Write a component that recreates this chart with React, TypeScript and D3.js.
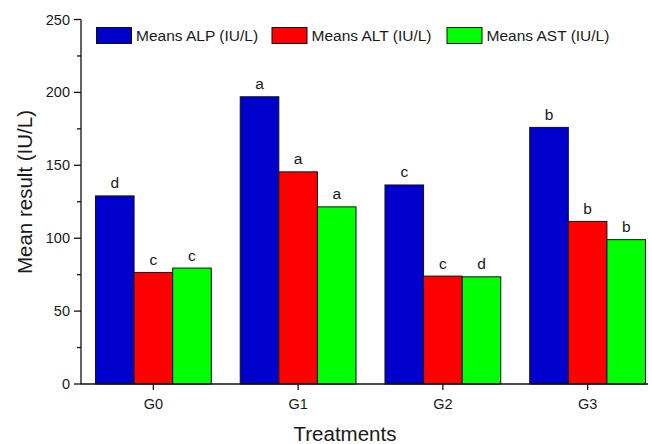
import React from "react";
import * as d3 from "d3";

const groups = ["G0", "G1", "G2", "G3"];
const seriesNames = ["Means ALP (IU/L)", "Means ALT (IU/L)", "Means AST (IU/L)"];
const seriesColors = ["#0000CC", "#FF0000", "#00FF00"];
const alpValues = [129, 197, 136.5, 176];
const altValues = [76.5, 145.5, 74, 111.5];
const astValues = [79.5, 121.5, 73.5, 99];
const alpLetters = ["d", "a", "c", "b"];
const altLetters = ["c", "a", "c", "b"];
const astLetters = ["c", "a", "d", "b"];
const yTicks = [0, 50, 100, 150, 200, 250];
const yMinorTicks = [25, 75, 125, 175, 225];

const values = [alpValues, altValues, astValues];
const letters = [alpLetters, altLetters, astLetters];

const W = 652;
const H = 444;
const FONT = "'Liberation Sans', Arial, sans-serif";
const TXT = "#1a1a1a";

export default function App() {
  const x = d3.scaleBand<string>().domain(groups).range([81, 660]).paddingInner(0.2).paddingOuter(0.1);
  const xs = d3.scaleBand<string>().domain(seriesNames).range([0, x.bandwidth()]);
  const y = d3.scaleLinear().domain([0, 250]).range([384, 19.5]);

  const legendX = [96.5, 272, 447];

  return (
    <svg width={W} height={H} style={{ position: "absolute", left: 0, top: 0, background: "#fff" }} fontFamily={FONT}>
      <rect x={0} y={0} width={W} height={H} fill="#fff" />
      {/* bars */}
      {groups.map((g, gi) =>
        seriesNames.map((s, si) => {
          const v = values[si][gi];
          const bx = (x(g) as number) + (xs(s) as number);
          return (
            <g key={g + s}>
              <rect x={bx} y={y(v)} width={xs.bandwidth()} height={y(0) - y(v)} fill={seriesColors[si]} stroke="#111" strokeWidth={1} />
              <text x={bx + xs.bandwidth() / 2} y={y(v) - 7.5} textAnchor="middle" fontSize={15.5} fill={TXT}>
                {letters[si][gi]}
              </text>
            </g>
          );
        })
      )}
      {/* y axis */}
      <line x1={81} x2={81} y1={y(250)} y2={y(0)} stroke="#111" strokeWidth={1.3} />
      {yTicks.map((t) => (
        <g key={"yt" + t}>
          <line x1={74} x2={81} y1={y(t)} y2={y(t)} stroke="#111" strokeWidth={1.3} />
          <text x={70} y={y(t) + 5} textAnchor="end" fontSize={14.5} fill={TXT}>
            {t}
          </text>
        </g>
      ))}
      {yMinorTicks.map((t) => (
        <line key={"ym" + t} x1={77} x2={81} y1={y(t)} y2={y(t)} stroke="#111" strokeWidth={1.3} />
      ))}
      {/* x axis */}
      <line x1={80.5} x2={648} y1={y(0)} y2={y(0)} stroke="#111" strokeWidth={1.3} />
      {groups.map((g) => {
        const cx = (x(g) as number) + x.bandwidth() / 2;
        return (
          <g key={"xt" + g}>
            <line x1={cx} x2={cx} y1={y(0)} y2={y(0) + 6} stroke="#111" strokeWidth={1.3} />
            <text x={cx} y={409} textAnchor="middle" fontSize={14.5} fill={TXT}>
              {g}
            </text>
          </g>
        );
      })}
      {/* axis titles */}
      <text x={345} y={441} textAnchor="middle" fontSize={20.5} fill={TXT}>
        Treatments
      </text>
      <text transform={`translate(32,192) rotate(-90)`} textAnchor="middle" fontSize={20.5} fill={TXT}>
        Mean result (IU/L)
      </text>
      {/* legend */}
      {seriesNames.map((s, si) => (
        <g key={"lg" + s}>
          <rect x={legendX[si]} y={27.5} width={35} height={16} fill={seriesColors[si]} stroke="#111" strokeWidth={1} />
          <text x={legendX[si] + 39.5} y={41} fontSize={15.5} fill={TXT}>
            {s}
          </text>
        </g>
      ))}
    </svg>
  );
}
